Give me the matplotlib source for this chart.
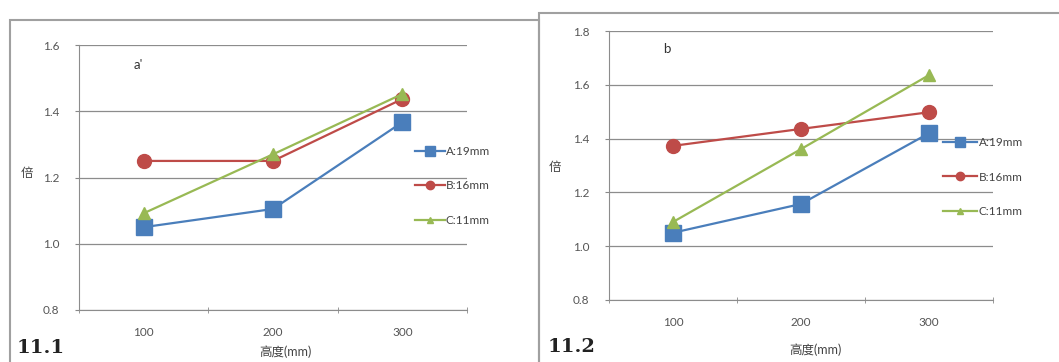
import numpy as np
import matplotlib
matplotlib.use("Agg")
from matplotlib import pyplot as plt
from matplotlib.patches import Rectangle

plt.rcParams['font.family'] = ['Lato', 'Noto Sans CJK SC', 'DejaVu Sans']

heights = ["100", "200", "300"]
labels = ["A:19mm", "B:16mm", "C:11mm"]

# 11.1 (a)
a_A = [1.05, 1.105, 1.367]
a_B = [1.25, 1.25, 1.437]
a_C = [1.092, 1.27, 1.452]

# 11.2 (b)
b_A = [1.05, 1.157, 1.42]
b_B = [1.373, 1.436, 1.498]
b_C = [1.09, 1.361, 1.636]

colors = ["#4a7ebb", "#be4b48", "#98b954"]
markers = ["s", "o", "^"]
sizes = [11, 10, 8]

fig = plt.figure(figsize=(10.59, 3.62), dpi=100)

# outer frames of the two pictures
fig.patches.append(Rectangle((10/1059, -0.01), (539-10)/1059, 1 - 20/362 + 0.01,
                             transform=fig.transFigure, fill=False,
                             edgecolor="#a0a0a0", lw=1.5))
fig.patches.append(Rectangle((539/1059, -0.01), 0.6, 1 - 13/362 + 0.01,
                             transform=fig.transFigure, fill=False,
                             edgecolor="#a0a0a0", lw=1.5))


def draw(ax, series, ylim, letter, letter_xy, leg_anchor, hlen):
    x = np.arange(len(heights))
    for s, lab, c, m, ms in zip(series, labels, colors, markers, sizes):
        ax.plot(x, s, color=c, marker=m, markersize=ms, lw=1.6, label=lab)
    ax.set_xlim(-0.5, 2.5)
    ax.set_ylim(*ylim)
    yt = np.arange(ylim[0], ylim[1] + 0.01, 0.2)
    ax.set_yticks(yt)
    ax.set_yticklabels(["%.1f" % v for v in yt])
    ax.set_xticks(x)
    ax.set_xticklabels(heights)
    ax.set_xticks([-0.5, 0.5, 1.5, 2.5], minor=True)
    ax.tick_params(axis="x", which="major", length=0, pad=12)
    ax.tick_params(axis="x", which="minor", length=4, direction="inout", color="#888888")
    ax.tick_params(axis="y", length=3, color="#888888", pad=11)
    ax.tick_params(labelsize=8.5, labelcolor="#555555")
    ax.grid(axis="y", color="#8c8c8c", lw=0.9)
    ax.set_axisbelow(True)
    for sp in ["top", "right"]:
        ax.spines[sp].set_visible(False)
    for sp in ["left", "bottom"]:
        ax.spines[sp].set_color("#8c8c8c")
    ax.text(letter_xy[0], letter_xy[1], letter, transform=ax.transAxes,
            fontsize=9.5, color="#333333")
    ax.legend(loc="center left", bbox_to_anchor=leg_anchor, frameon=False,
              fontsize=8.5, labelspacing=2.0, handlelength=hlen, handletextpad=0.1,
              borderpad=0, borderaxespad=0,
              markerscale=0.6, labelcolor="#444444")


ax1 = fig.add_axes([79/1059, 1 - 310/362, (467-79)/1059, (310-45)/362])
draw(ax1, [a_A, a_B, a_C], (0.8, 1.6), "a'", (0.14, 0.91), (0.866, 0.468), 2.5)
ax2 = fig.add_axes([609/1059, 1 - 300/362, (993-609)/1059, (300-31)/362])
draw(ax2, [b_A, b_B, b_C], (0.8, 1.8), "b", (0.14, 0.92), (0.87, 0.457), 2.9)

fig.text(27/1059, 1 - 173/362, "倍", fontsize=9, color="#444444", va="center", ha="center")
fig.text(555/1059, 1 - 167/362, "倍", fontsize=9, color="#444444", va="center", ha="center")
fig.text(285/1059, 1 - 352/362, "高度(mm)", fontsize=9, color="#444444", va="center", ha="center")
fig.text(815/1059, 1 - 350/362, "高度(mm)", fontsize=9, color="#444444", va="center", ha="center")
fig.text(17/1059, 1 - 348/362, "11.1", fontsize=14, fontweight="bold", color="#222222",
         va="center", family="DejaVu Serif")
fig.text(548/1059, 1 - 347/362, "11.2", fontsize=14, fontweight="bold", color="#222222",
         va="center", family="DejaVu Serif")

fig.savefig("out.png", dpi=100)
